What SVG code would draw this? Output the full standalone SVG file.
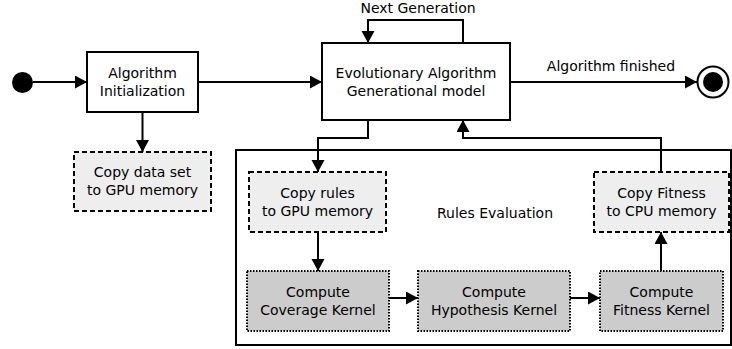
<svg xmlns="http://www.w3.org/2000/svg" width="732" height="349" viewBox="0 0 732 349">
<defs>
<marker id="ah" markerWidth="12" markerHeight="14" refX="12" refY="6.5" orient="auto" markerUnits="userSpaceOnUse">
<path d="M0,0 L12,6.5 L0,13 Z" fill="#000"/>
</marker>
<style>
text{font-family:"DejaVu Sans","Liberation Sans",sans-serif;font-size:14px;fill:#000;text-anchor:middle}
.solid{fill:#fff;stroke:#000;stroke-width:2}
.dash{fill:#eeeeee;stroke:#000;stroke-width:2;stroke-dasharray:5,3}
.dot{fill:#cccccc;stroke:#000;stroke-width:2;stroke-dasharray:1.5,1.5}
.c{fill:none;stroke:#000;stroke-width:2}
</style>
</defs>
<rect width="732" height="349" fill="#fff"/>
<g id="rules-evaluation">
<rect x="236" y="150" width="495" height="195" fill="none" stroke="#000" stroke-width="2"/>
<text x="495" y="218">Rules Evaluation</text>
</g>
<g id="start"><circle cx="22.5" cy="82.5" r="10.5" fill="#000"/></g>
<g id="end">
<circle cx="713" cy="82" r="15.5" fill="#fff" stroke="#000" stroke-width="2"/>
<circle cx="713" cy="82" r="10" fill="#000"/>
</g>
<g id="init">
<rect class="solid" x="87" y="52" width="111" height="60"/>
<text x="142.5" y="78">Algorithm</text>
<text x="142.5" y="96">Initialization</text>
</g>
<g id="evo">
<rect class="solid" x="322" y="43" width="188" height="77"/>
<text x="416" y="78">Evolutionary Algorithm</text>
<text x="416" y="96">Generational model</text>
</g>
<g id="copy-data">
<rect class="dash" x="74" y="152" width="137" height="59"/>
<text x="142.5" y="177">Copy data set</text>
<text x="142.5" y="195">to GPU memory</text>
</g>
<g id="copy-rules">
<rect class="dash" x="249" y="172" width="137" height="60"/>
<text x="317.5" y="198">Copy rules</text>
<text x="317.5" y="216">to GPU memory</text>
</g>
<g id="copy-fitness">
<rect class="dash" x="594" y="172" width="135" height="60"/>
<text x="661.5" y="198">Copy Fitness</text>
<text x="661.5" y="216">to CPU memory</text>
</g>
<g id="coverage">
<rect class="dot" x="247" y="271" width="142" height="60"/>
<text x="318" y="297">Compute</text>
<text x="318" y="315">Coverage Kernel</text>
</g>
<g id="hypothesis">
<rect class="dot" x="418" y="271" width="152" height="60"/>
<text x="494" y="297">Compute</text>
<text x="494" y="315">Hypothesis Kernel</text>
</g>
<g id="fitness">
<rect class="dot" x="600" y="271" width="123" height="60"/>
<text x="661.5" y="297">Compute</text>
<text x="661.5" y="315">Fitness Kernel</text>
</g>
<g id="connectors">
<path class="c" d="M33,82 L87,82" marker-end="url(#ah)"/>
<path class="c" d="M198,82 L322,82" marker-end="url(#ah)"/>
<path class="c" d="M463,43 L463,20 L368,20 L368,43" marker-end="url(#ah)"/>
<text x="418" y="13">Next Generation</text>
<path class="c" d="M510,82 L697,82" marker-end="url(#ah)"/>
<text x="611" y="71">Algorithm finished</text>
<path class="c" d="M142.5,112 L142.5,152" marker-end="url(#ah)"/>
<path class="c" d="M368,120 L368,138 L318,138 L318,172" marker-end="url(#ah)"/>
<path class="c" d="M318,232 L318,271" marker-end="url(#ah)"/>
<path class="c" d="M389,298 L418,298" marker-end="url(#ah)"/>
<path class="c" d="M570,298 L600,298" marker-end="url(#ah)"/>
<path class="c" d="M661,271 L661,232" marker-end="url(#ah)"/>
<path class="c" d="M661,172 L661,138 L463,138 L463,120" marker-end="url(#ah)"/>
</g>
</svg>
